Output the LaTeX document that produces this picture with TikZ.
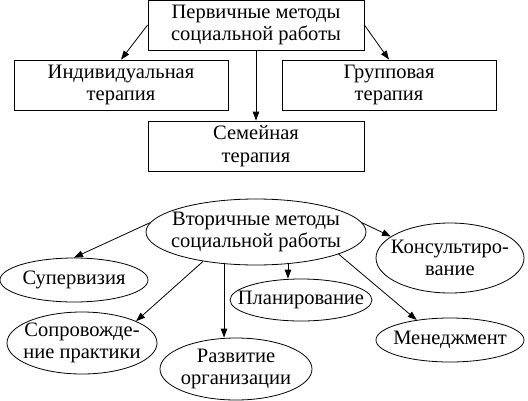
\documentclass[tikz,border=0pt]{standalone}
\usepackage{fontspec}
\setmainfont{Liberation Serif}
\usetikzlibrary{arrows.meta,shapes.geometric}
\begin{document}
\begin{tikzpicture}[x=1pt,y=-1pt,
  every node/.style={font=\fontsize{20.5}{22.5}\selectfont, align=center, inner sep=0pt},
  box/.style={draw, line width=0.8pt, minimum width=216pt, minimum height=50pt},
  oval/.style={draw, ellipse, line width=0.8pt, inner xsep=-30pt, inner ysep=-15pt},
  arr/.style={line width=0.8pt, -{Triangle[length=9pt,width=6.5pt]}}]
\useasboundingbox (0,0) rectangle (528,400);
% primary methods
\node[box] (top) at (256,25) {Первичные методы\\социальной работы};
\node[box, minimum width=214pt] (indiv) at (121,85) {Индивидуальная\\терапия};
\node[box, minimum width=214pt] (group) at (389,85) {Групповая\\терапия};
\node[box] (fam) at (256,146) {Семейная\\терапия};
\draw[arr] (top.west) -- (indiv.north);
\draw[arr] (top.east) -- (group.north);
\draw[arr] (top.south) -- (fam.north);
% secondary methods
\node[oval, minimum width=220pt, minimum height=66pt] (sec) at (256,232) {Вторичные методы\\социальной работы};
\node[oval, minimum width=148pt, minimum height=44pt] (sup) at (74,280) {Супервизия};
\node[oval, minimum width=150pt, minimum height=62pt] (sopr) at (82,343) {Сопровожде-\\ние практики};
\node[oval, minimum width=152pt, minimum height=62pt] (razv) at (236,369) {Развитие\\организации};
\node[oval, minimum width=142pt, minimum height=42pt] (plan) at (301,300) {Планирование};
\node[oval, minimum width=148pt, minimum height=70pt] (kons) at (450,258) {Консультиро-\\вание};
\node[oval, minimum width=148pt, minimum height=44pt] (men) at (450,340) {Менеджмент};
\draw[arr] (sec.175) -- (sup.north);
\draw[arr] (sec.209) -- (sopr.22);
\draw[arr] (sec.225) -- (sec.225 |- razv.north);
\draw[arr] (sec.315) -- (sec.315 |- plan.north);
\draw[arr] (sec.345) -- (men.149);
\draw[arr] (sec.5) -- (kons.160);
\end{tikzpicture}
\end{document}
